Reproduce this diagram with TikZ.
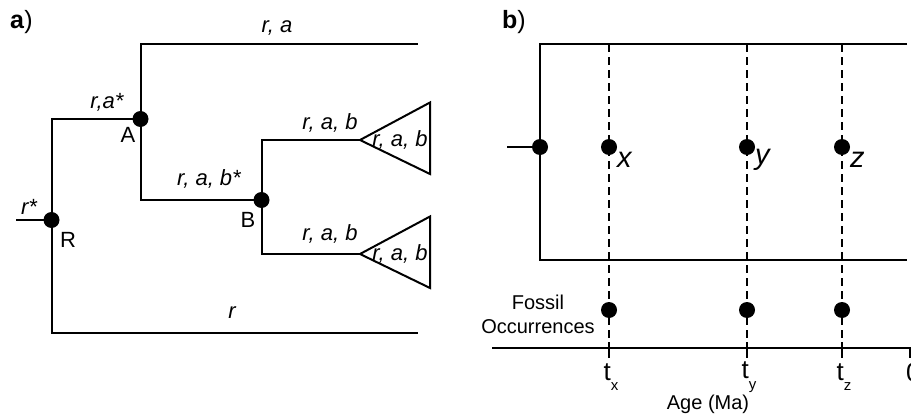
\documentclass[tikz,border=0pt]{standalone}
\usepackage{fontspec}
\setmainfont{Liberation Sans}
\usetikzlibrary{positioning}
\newcommand{\agelabel}[1]{t\raisebox{-0.75ex}{\fontsize{15}{15}\selectfont #1}}

\begin{document}
\begin{tikzpicture}[
  x=1pt,y=-1pt,
  every node/.style={font=\fontsize{22}{24}\selectfont,inner sep=0pt},
  branch/.style={line width=2pt},
  guide/.style={line width=1.6pt,dash pattern=on 8pt off 5pt},
  dot/.style={circle,fill=black,inner sep=0pt,minimum size=16pt},
  state/.style={font=\fontsize{22}{24}\selectfont\itshape},
  event/.style={font=\fontsize{29}{30}\selectfont\itshape,anchor=west},
  small/.style={font=\fontsize{20}{24}\selectfont,align=center},
  panel/.style={font=\fontsize{25}{26}\selectfont,anchor=west}
]
\useasboundingbox (0,0) rectangle (911,415);

% a) tree with ancestral states
\node[panel] (pa) at (10,22) {\textbf{a})};
\node[dot] (R) at (51.5,220) {};
\node[dot] (A) at (140.5,119) {};
\node[dot] (B) at (261.5,200) {};
\coordinate (root) at (16,220);
\coordinate (tipA) at (418,44);
\coordinate (tipR) at (418,332.5);
\coordinate (apexU) at (360,140);
\coordinate (apexL) at (360,254);
\draw[branch] (root) -- (R.center);
\draw[branch] (R.center) |- (A.center);
\draw[branch] (R.center) |- (tipR);
\draw[branch] (A.center) |- (tipA);
\draw[branch] (A.center) |- (B.center);
\draw[branch] (B.center) |- (apexU);
\draw[branch] (B.center) |- (apexL);
\draw[branch,line join=miter] (apexU) -- ++(70,-37.5) -- ++(0,71.5) -- cycle;
\draw[branch,line join=miter] (apexL) -- ++(70,-37.5) -- ++(0,71.5) -- cycle;

\node[state] (lra) at (277,28) {r, a};
\node[state] (lrastar) at (107,102) {r,a*};
\node[state] (lrabstar) at (209,179) {r, a, b*};
\node[state] (lup) at (330,123) {r, a, b};
\node[state] (llow) at (330,234) {r, a, b};
\node[state] (cladeU) at (400,140) {r, a, b};
\node[state] (cladeL) at (400,254) {r, a, b};
\node[state] (lr) at (232,313) {r};
\node[state] (lrstar) at (29,207) {r*};
\node (nA) at (128,135) {A};
\node (nR) at (68,240) {R};
\node (nB) at (248,220) {B};

% b) fossil occurrences on a time axis
\node[panel] (pb) at (502,22) {\textbf{b})};
\node[dot] (Rb) at (540,147) {};
\coordinate (stub) at (507,147);
\coordinate (topEnd) at (907,44);
\coordinate (botEnd) at (907,260);
\draw[branch] (stub) -- (Rb.center);
\draw[branch] (topEnd) -| (Rb.center) |- (botEnd);
\coordinate (axisL) at (492,348);
\coordinate (axisR) at (910,348);
\draw[branch] (axisL) -- (axisR) -- ++(0,10);
\foreach \n/\x in {x/609,y/747,z/842} {
  \coordinate (top\n) at (\x,44);
  \coordinate (tick\n) at (\x,348);
  \draw[guide] (top\n) -- (tick\n);
  \draw[branch] (\x,342) -- (\x,358);
  \node[dot] (d\n) at (\x,147) {};
  \node[dot] (f\n) at (\x,310) {};
  \node[event] (e\n) at (\x+8,160) {\n};
  \node[font=\fontsize{26}{26}\selectfont] (t\n) at (\x+2,377) {\agelabel{\n}};
}
\node[font=\fontsize{26}{26}\selectfont,anchor=west] (zero) at (906,373) {0};
\node[small] (fossil) at (538,314) {Fossil\\Occurrences};
\node[small] (age) at (708,404) {Age (Ma)};
\end{tikzpicture}
\end{document}
